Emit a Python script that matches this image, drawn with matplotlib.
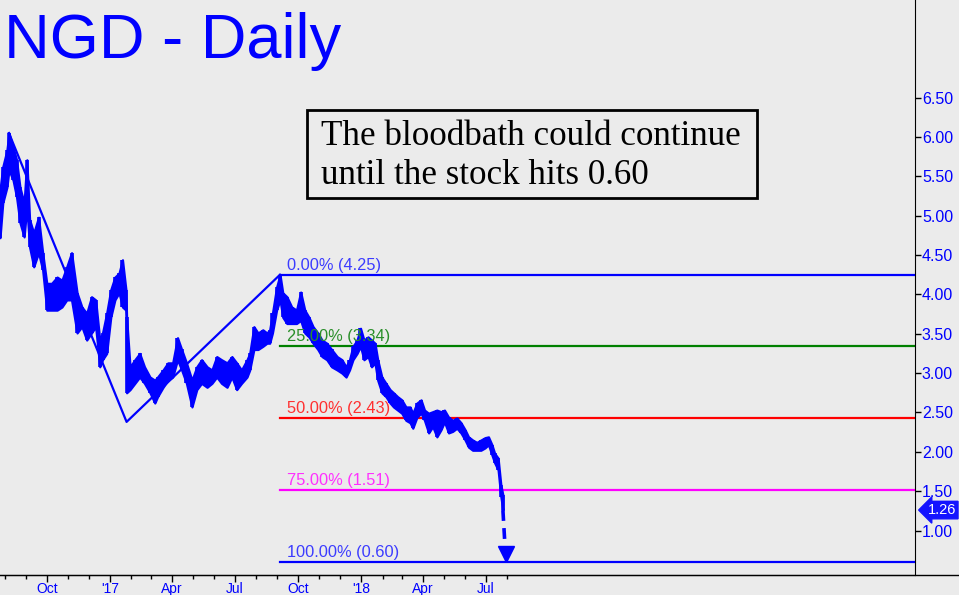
import matplotlib
matplotlib.use("Agg")
import matplotlib.pyplot as plt
from matplotlib.lines import Line2D
from matplotlib.patches import Rectangle
import pandas as pd

# NGD daily bars, read off the chart roughly once a week (high / low)
dates = [
    "2016-07-25", "2016-07-29", "2016-08-04", "2016-08-07", "2016-08-13", "2016-08-18",
    "2016-08-23", "2016-08-29", "2016-09-02", "2016-09-06", "2016-09-12", "2016-09-19",
    "2016-09-25", "2016-10-01", "2016-10-08", "2016-10-16", "2016-10-23", "2016-10-30",
    "2016-11-06", "2016-11-14", "2016-11-21", "2016-11-28", "2016-12-05", "2016-12-11",
    "2016-12-17", "2016-12-21", "2016-12-27", "2017-01-02", "2017-01-08", "2017-01-14",
    "2017-01-19", "2017-01-24", "2017-01-25", "2017-01-30", "2017-02-06", "2017-02-13",
    "2017-02-20", "2017-02-28", "2017-03-07", "2017-03-11", "2017-03-19", "2017-03-26",
    "2017-04-02", "2017-04-09", "2017-04-15", "2017-04-22", "2017-04-30", "2017-05-07",
    "2017-05-14", "2017-05-22", "2017-05-29", "2017-06-05", "2017-06-12", "2017-06-20",
    "2017-06-27", "2017-07-04", "2017-07-11", "2017-07-19", "2017-07-23", "2017-07-29",
    "2017-08-04", "2017-08-11", "2017-08-17", "2017-08-21", "2017-08-25", "2017-08-31",
    "2017-09-05", "2017-09-09", "2017-09-15", "2017-09-22", "2017-09-29", "2017-10-05",
    "2017-10-11", "2017-10-17", "2017-10-23", "2017-10-30", "2017-11-05", "2017-11-12",
    "2017-11-19", "2017-11-27", "2017-12-04", "2017-12-10", "2017-12-15", "2017-12-20",
    "2017-12-26", "2017-12-31", "2018-01-05", "2018-01-11", "2018-01-16", "2018-01-21",
    "2018-01-25", "2018-01-31", "2018-02-06", "2018-02-12", "2018-02-17", "2018-02-23",
    "2018-03-01", "2018-03-07", "2018-03-13", "2018-03-17", "2018-03-23", "2018-03-29",
    "2018-04-03", "2018-04-09", "2018-04-15", "2018-04-21", "2018-04-27", "2018-05-02",
    "2018-05-08", "2018-05-14", "2018-05-20", "2018-05-26", "2018-06-01", "2018-06-06",
    "2018-06-12", "2018-06-18", "2018-06-24", "2018-06-30", "2018-07-05", "2018-07-10",
    "2018-07-14", "2018-07-19", "2018-07-23", "2018-07-26",
]
highs = [
    5.33, 5.62, 5.83, 6.05, 5.87, 5.71, 5.36, 5.16, 5.71, 4.95, 4.78, 4.98,
    4.53, 4.14, 4.14, 4.22, 4.18, 4.35, 4.53, 4.02, 3.84, 3.76, 3.97, 3.93,
    3.42, 3.51, 3.76, 4.06, 4.22, 4.27, 4.44, 4.06, 3.71, 3.08, 3.17, 3.25,
    3.08, 2.95, 2.91, 2.95, 3.04, 3.13, 3.13, 3.45, 3.30, 3.13, 2.91, 3.08,
    3.17, 3.08, 3.04, 3.21, 3.17, 3.13, 3.21, 3.13, 3.04, 3.17, 3.25, 3.59,
    3.51, 3.55, 3.51, 3.55, 3.76, 4.09, 4.25, 4.02, 3.97, 3.84, 3.80, 4.03,
    3.80, 3.71, 3.59, 3.51, 3.42, 3.38, 3.30, 3.21, 3.17, 3.08, 3.17, 3.34,
    3.42, 3.57, 3.42, 3.46, 3.42, 3.38, 3.17, 2.95, 2.87, 2.79, 2.75, 2.70,
    2.66, 2.57, 2.57, 2.49, 2.62, 2.66, 2.53, 2.49, 2.51, 2.53, 2.51, 2.53,
    2.44, 2.40, 2.43, 2.37, 2.28, 2.19, 2.15, 2.12, 2.15, 2.18, 2.19, 2.09,
    1.98, 1.92, 1.58, 1.45,
]
lows = [
    4.72, 5.16, 5.36, 5.58, 5.45, 5.24, 4.91, 4.73, 5.11, 4.60, 4.35, 4.53,
    4.31, 3.80, 3.80, 3.80, 3.84, 3.93, 3.93, 3.51, 3.59, 3.42, 3.51, 3.59,
    3.08, 3.17, 3.25, 3.71, 3.93, 4.02, 3.84, 3.80, 2.75, 2.79, 2.87, 2.95,
    2.87, 2.75, 2.62, 2.70, 2.82, 2.91, 2.95, 3.17, 3.04, 2.87, 2.57, 2.79,
    2.87, 2.82, 2.87, 2.95, 2.87, 2.82, 2.95, 2.79, 2.87, 2.95, 3.04, 3.30,
    3.30, 3.34, 3.38, 3.38, 3.51, 3.80, 3.93, 3.71, 3.63, 3.63, 3.63, 3.67,
    3.51, 3.46, 3.38, 3.30, 3.21, 3.17, 3.08, 3.04, 3.00, 2.95, 3.04, 3.17,
    3.25, 3.34, 3.17, 3.21, 3.08, 3.13, 2.91, 2.75, 2.70, 2.62, 2.57, 2.53,
    2.49, 2.40, 2.37, 2.30, 2.44, 2.49, 2.40, 2.24, 2.32, 2.19, 2.28, 2.38,
    2.24, 2.26, 2.30, 2.24, 2.15, 2.06, 2.02, 2.02, 2.02, 2.05, 2.09, 1.96,
    1.86, 1.77, 1.43, 1.26,
]

# swing line drawn over the bars
swing_dates = ["2016-08-07", "2017-01-25", "2017-09-05"]
swing_prices = [6.05, 2.38, 4.25]

# retracement levels from the 4.25 high
fib_start = "2017-09-05"
fib_pcts = ["0.00%", "25.00%", "50.00%", "75.00%", "100.00%"]
fib_levels = [4.25, 3.34, 2.43, 1.51, 0.60]
fib_line_colors = ["#0000ff", "#008000", "#ff0000", "#ff00ff", "#0000ff"]
fib_text_colors = ["#3c3cff", "#2a8f2a", "#ff3030", "#ff30ff", "#3c3cff"]

# projected drop
arrow_dates = ["2018-07-26", "2018-07-30"]
arrow_prices = [1.26, 0.66]
last_price = 1.26

month_ticks = ["2016-10-01", "2017-01-01", "2017-04-01", "2017-07-01",
               "2017-10-01", "2018-01-01", "2018-04-01", "2018-07-01"]
month_labels = ["Oct", "'17", "Apr", "Jul", "Oct", "'18", "Apr", "Jul"]
y_ticks = [1.0, 1.5, 2.0, 2.5, 3.0, 3.5, 4.0, 4.5, 5.0, 5.5, 6.0, 6.5]

BG = "#ebebeb"
BLUE = "#0000ff"

d = pd.to_datetime(dates)

fig = plt.figure(figsize=(9.59, 5.95), dpi=100, facecolor=BG)
ax = fig.add_axes([0, 20 / 595, 915 / 959, 575 / 595])
ax.set_facecolor(BG)

ax.fill_between(d, lows, highs, color=BLUE, lw=1.6, zorder=3)
ax.vlines(d, lows, highs, color=BLUE, lw=2.6, zorder=3)
ax.plot(pd.to_datetime(swing_dates), swing_prices, color=BLUE, lw=1.6, zorder=4)

x_end = pd.Timestamp("2020-03-16")
for pct, lvl, lc, tc in zip(fib_pcts, fib_levels, fib_line_colors, fib_text_colors):
    ax.plot([pd.Timestamp(fib_start), x_end], [lvl, lvl], color=lc, lw=1.6, zorder=2)
    ax.annotate(f"{pct} ({lvl:.2f})", xy=(pd.Timestamp(fib_start), lvl),
                xytext=(5, 1.5), textcoords="offset points", va="bottom",
                ha="left", color=tc, fontsize=11.8, family="Liberation Sans", zorder=5)

ad = pd.to_datetime(arrow_dates)
ax.plot(ad, arrow_prices, color=BLUE, lw=2.6, dashes=(3, 2), zorder=4)
ax.plot([ad[1]], [arrow_prices[1] + 0.04], marker="v", color=BLUE, ms=11, zorder=4)

ax.set_xlim(pd.Timestamp("2016-07-25"), x_end)
ax.set_ylim(0.435, 7.74)

ax.set_xticks(pd.to_datetime(month_ticks))
ax.set_xticklabels(month_labels)
ax.set_xticks(pd.date_range("2016-08-01", "2018-08-01", freq="MS"), minor=True)
ax.tick_params(axis="x", which="major", direction="out", length=5, width=1,
               labelsize=10, labelcolor=BLUE, pad=0)
ax.tick_params(axis="x", which="minor", direction="out", length=3, width=1)

ax.yaxis.tick_right()
ax.set_yticks(y_ticks)
ax.set_yticklabels([f"{v:.2f}" for v in y_ticks])
ax.tick_params(axis="y", direction="out", length=4, width=1, labelsize=11.5,
               labelcolor=BLUE, pad=1)
for lab in ax.get_xticklabels() + ax.get_yticklabels():
    lab.set_family("Liberation Sans")

for s in ["left", "top"]:
    ax.spines[s].set_visible(False)
ax.spines["right"].set_color("black")
ax.spines["bottom"].set_color("black")
fig.add_artist(Line2D([0, 1], [20 / 595, 20 / 595], color="black", lw=1,
                      transform=fig.transFigure))

fig.text(4 / 959, 1 - 58 / 595, "NGD - Daily", color=BLUE, fontsize=45.5,
         family="Liberation Sans", va="baseline", ha="left")

fig.add_artist(Rectangle((307 / 959, 1 - 198 / 595), 450 / 959, 88 / 595,
                         transform=fig.transFigure, fill=False, ec="black", lw=2))
fig.text(321 / 959, 1 - 145 / 595, "The bloodbath could continue", fontsize=25.2,
         family="Liberation Serif", va="baseline", ha="left", color="black")
fig.text(321 / 959, 1 - 184 / 595, "until the stock hits 0.60", fontsize=25.2,
         family="Liberation Serif", va="baseline", ha="left", color="black")

ax.annotate(f"{last_price:.2f}", xy=(1.0, last_price), xycoords=("axes fraction", "data"),
            xytext=(19.5, 0), textcoords="offset points", ha="center", va="center",
            color="white", fontsize=10.5, family="Liberation Sans", annotation_clip=False,
            bbox=dict(boxstyle="larrow,pad=0.12", fc="#1414ff", ec="#1414ff"))

fig.savefig("out.png", dpi=100, facecolor=BG)
